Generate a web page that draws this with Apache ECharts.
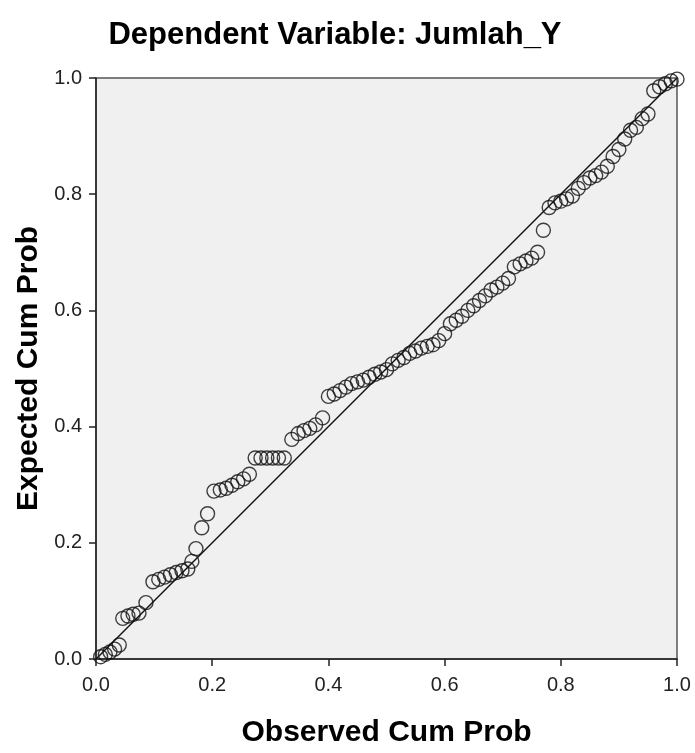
<!DOCTYPE html>
<html>
<head>
<meta charset="utf-8">
<script src="https://cdn.jsdelivr.net/npm/echarts@6/dist/echarts.min.js"></script>
<style>html,body{margin:0;padding:0;background:#fff}#c{width:695px;height:753px}</style>
</head>
<body>
<div id="c"></div>
<script>
var titleText = 'Dependent Variable: Jumlah_Y';
var xName = 'Observed Cum Prob';
var yName = 'Expected Cum Prob';
var tickValues = [0, 0.2, 0.4, 0.6, 0.8, 1.0];
var observed = [0.008,0.016,0.024,0.032,0.040,0.046,0.055,0.064,0.074,0.086,
0.098,0.108,0.118,0.128,0.138,0.148,0.158,0.165,0.172,0.182,
0.192,0.203,0.214,0.224,0.234,0.244,0.254,0.264,0.274,0.284,
0.294,0.304,0.314,0.324,0.337,0.348,0.358,0.368,0.378,0.390,
0.400,0.410,0.420,0.430,0.440,0.450,0.460,0.470,0.480,0.490,
0.500,0.510,0.520,0.530,0.540,0.550,0.560,0.570,0.580,0.590,
0.600,0.610,0.620,0.630,0.640,0.650,0.660,0.670,0.680,0.690,
0.700,0.710,0.720,0.730,0.740,0.750,0.760,0.770,0.780,0.790,
0.800,0.810,0.820,0.830,0.840,0.850,0.860,0.870,0.880,0.890,
0.900,0.910,0.920,0.930,0.940,0.950,0.960,0.970,0.980,0.990,1.000];
var expected = [0.004,0.008,0.012,0.017,0.024,0.070,0.074,0.077,0.079,0.097,
0.133,0.137,0.141,0.145,0.149,0.152,0.155,0.168,0.190,0.226,
0.250,0.289,0.291,0.294,0.299,0.305,0.310,0.318,0.346,0.346,
0.346,0.346,0.346,0.346,0.378,0.388,0.393,0.397,0.403,0.415,
0.452,0.456,0.462,0.468,0.474,0.477,0.480,0.485,0.490,0.494,
0.498,0.508,0.514,0.519,0.526,0.530,0.535,0.538,0.541,0.548,
0.560,0.577,0.583,0.590,0.600,0.608,0.617,0.625,0.635,0.640,
0.647,0.655,0.675,0.680,0.685,0.690,0.700,0.738,0.777,0.785,
0.788,0.792,0.797,0.810,0.820,0.828,0.832,0.838,0.848,0.865,
0.877,0.895,0.910,0.915,0.930,0.938,0.978,0.985,0.990,0.995,0.998];
var refLineX = [0, 1];
var refLineY = [0, 1];

var pts = observed.map(function(v, i){ return [v, expected[i]]; });
var ref = refLineX.map(function(v, i){ return [v, refLineY[i]]; });

var chart = echarts.init(document.getElementById('c'), null, {renderer:'canvas'});
var font = 'Liberation Sans, Arial, sans-serif';
chart.setOption({
  animation: false,
  title: {
    text: titleText, left: 330, top: 15, textAlign: 'center',
    textStyle: {fontFamily: font, fontSize: 31, fontWeight: 'bold', color: '#000'}
  },
  grid: {left: 96, right: 18, top: 78, bottom: 91, show: true,
    backgroundColor: '#f0f0f0', borderColor: '#555', borderWidth: 1.5},
  xAxis: {
    type: 'value', min: 0, max: 1, interval: 0.2,
    name: xName, nameLocation: 'middle', nameGap: 59,
    nameTextStyle: {fontFamily: font, fontSize: 30, fontWeight: 'bold', color: '#000'},
    axisLine: {show: true, lineStyle: {color: '#222', width: 1.5}},
    axisTick: {show: true, length: 7, lineStyle: {color: '#222', width: 1.5}},
    axisLabel: {fontFamily: font, fontSize: 20, color: '#222', margin: 16,
      formatter: function(v){ return v.toFixed(1); }},
    splitLine: {show: false}
  },
  yAxis: {
    type: 'value', min: 0, max: 1, interval: 0.2,
    name: yName, nameLocation: 'middle', nameGap: 50,
    nameTextStyle: {fontFamily: font, fontSize: 30, fontWeight: 'bold', color: '#000'},
    axisLine: {show: true, lineStyle: {color: '#222', width: 1.5}},
    axisTick: {show: true, length: 7, lineStyle: {color: '#222', width: 1.5}},
    axisLabel: {fontFamily: font, fontSize: 20, color: '#222', margin: 14,
      formatter: function(v){ return v.toFixed(1); }},
    splitLine: {show: false}
  },
  series: [
    {type: 'line', data: ref, symbol: 'none', lineStyle: {color: '#111', width: 1.5}, z: 2},
    {type: 'scatter', data: pts, symbol: 'circle', symbolSize: 14,
      itemStyle: {color: 'rgba(0,0,0,0)', borderColor: '#111', borderWidth: 1.4}, z: 3}
  ]
});
</script>
</body>
</html>
